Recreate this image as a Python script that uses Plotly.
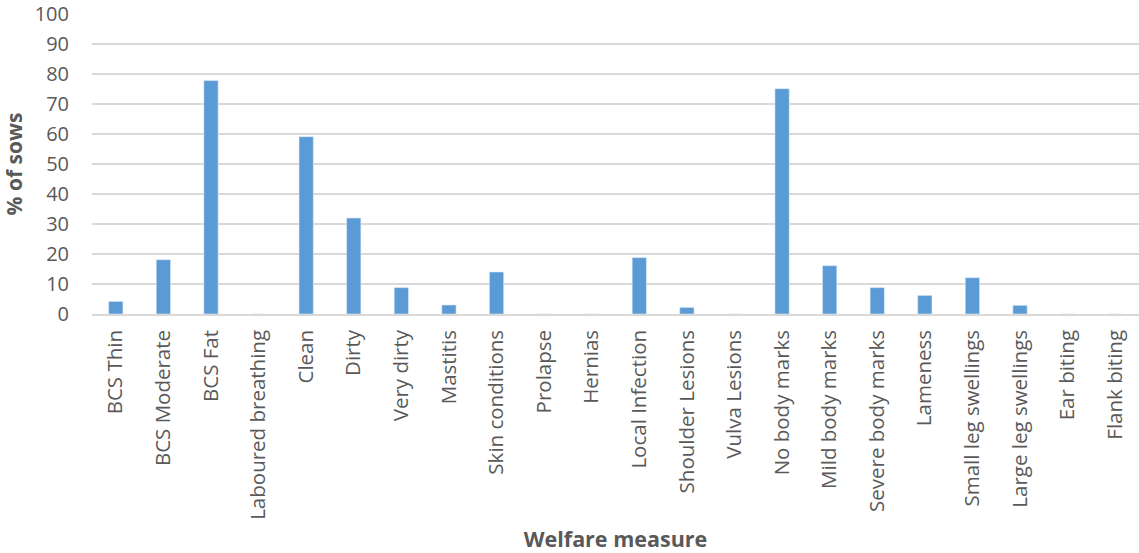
import plotly.graph_objects as go

categories = ["BCS Thin", "BCS Moderate", "BCS Fat", "Laboured breathing", "Clean", "Dirty",
              "Very dirty", "Mastitis", "Skin conditions", "Prolapse", "Hernias",
              "Local Infection", "Shoulder Lesions", "Vulva Lesions", "No body marks",
              "Mild body marks", "Severe body marks", "Lameness", "Small leg swellings",
              "Large leg swellings", "Ear biting", "Flank biting"]
values = [4.2, 18.1, 77.8, 0, 59.1, 32.0, 8.8, 3.0, 14.0, 0, 0,
          18.8, 2.2, 0, 75.1, 16.1, 8.8, 6.2, 12.1, 2.9, 0, 0]
y_ticks = [0, 10, 20, 30, 40, 50, 60, 70, 80, 90, 100]

FONT = "Open Sans"
GREY = "#595959"

fig = go.Figure(go.Bar(
    x=categories, y=values,
    marker=dict(color="#5B9BD5", line=dict(color="#DDEBF7", width=0.6)),
))
fig.update_layout(
    width=1139, height=553,
    margin=dict(l=92, r=0, t=12, b=239),
    plot_bgcolor="white", paper_bgcolor="white",
    bargap=0.70,
    showlegend=False,
    font=dict(family=FONT, color=GREY),
)
fig.update_yaxes(
    range=[0, 100], tickvals=y_ticks, showgrid=True, gridcolor="#D9D9D9", gridwidth=1.5,
    zeroline=False, showline=False, ticks="", tickfont=dict(size=20, color=GREY),
    ticklabelstandoff=22, ticklabeloverflow="allow",
    title=dict(text="<b>% of sows</b>", font=dict(size=21, color=GREY), standoff=12),
)
fig.update_xaxes(
    tickangle=-90, showline=True, linecolor="#D9D9D9", linewidth=1.5, ticks="",
    tickfont=dict(size=20.5, color=GREY), ticklabelstandoff=6,
    title=dict(text="<b>Welfare measure</b>", font=dict(size=21.5, color=GREY), standoff=14),
)
fig.write_html("out.html", config={"displayModeBar": False},
               post_script="document.body.style.margin='0';")
